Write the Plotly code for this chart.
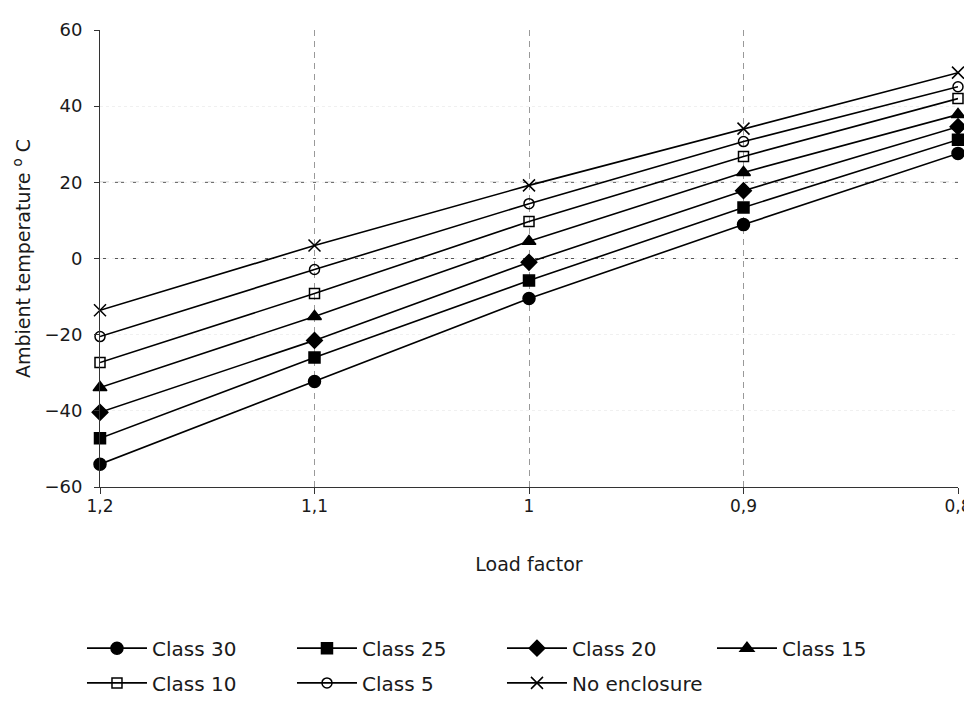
import plotly.graph_objects as go

load_factor = [1.2, 1.1, 1.0, 0.9, 0.8]
x_tick_labels = ["1,2", "1,1", "1", "0,9", "0,8"]
y_ticks = [-60, -40, -20, 0, 20, 40, 60]

class_30 = [-54.0, -32.3, -10.5, 8.9, 27.6]
class_25 = [-47.2, -26.0, -5.8, 13.4, 31.2]
class_20 = [-40.4, -21.5, -1.0, 17.8, 34.6]
class_15 = [-33.9, -15.2, 4.5, 22.6, 37.8]
class_10 = [-27.3, -9.2, 9.7, 26.8, 42.0]
class_5 = [-20.5, -2.9, 14.4, 30.7, 45.1]
no_enclosure = [-13.6, 3.4, 19.2, 34.1, 48.8]

series = [
    ("Class 30", class_30, "circle", 12, "legend"),
    ("Class 25", class_25, "square", 11, "legend"),
    ("Class 20", class_20, "diamond", 12, "legend"),
    ("Class 15", class_15, "triangle-up", 12, "legend"),
    ("Class 10", class_10, "square-open", 10, "legend2"),
    ("Class 5", class_5, "circle-open", 10, "legend2"),
    ("No enclosure", no_enclosure, "x-thin-open", 12, "legend2"),
]

FONT = "DejaVu Sans, Liberation Sans, sans-serif"
TXT = "#1a1a1a"
fig = go.Figure()
for name, vals, sym, size, leg in series:
    fig.add_trace(go.Scatter(
        x=load_factor, y=vals, name=name, mode="lines+markers",
        line=dict(color="black", width=1.6),
        marker=dict(symbol=sym, size=size, color="black",
                    line=dict(color="black", width=1.5)),
        cliponaxis=False, legend=leg,
    ))

# emphasised dashed reference lines at 0 and 20
for yv in [0, 20]:
    fig.add_shape(type="line", xref="paper", x0=0, x1=1, yref="y", y0=yv, y1=yv,
                  line=dict(color="#555", width=1, dash="9px,6px"), layer="below")

leg_common = dict(orientation="h", xanchor="left", yanchor="top",
                  entrywidth=135, entrywidthmode="pixels",
                  font=dict(size=20, family=FONT, color=TXT),
                  bgcolor="rgba(0,0,0,0)", itemwidth=60)

fig.update_layout(
    width=964, height=689,
    margin=dict(l=92, r=14, t=22, b=210, autoexpand=False),
    paper_bgcolor="white", plot_bgcolor="white",
    font=dict(family=FONT, size=18, color=TXT),
    showlegend=True,
    legend=dict(x=-0.021, y=-0.310, **leg_common),
    legend2=dict(x=-0.021, y=-0.386, **leg_common),
    xaxis=dict(
        range=[1.2, 0.8], tickvals=load_factor, ticktext=x_tick_labels,
        showline=True, linecolor="#333", linewidth=1,
        ticks="outside", ticklen=6, tickcolor="#333", ticklabelstandoff=-2,
        ticklabeloverflow="allow",
        showgrid=True, gridcolor="#999", griddash="6px,5px", gridwidth=1,
        zeroline=False, automargin=False,
        title=dict(text="Load factor", standoff=42, font=dict(size=19)),
        tickfont=dict(size=17),
    ),
    yaxis=dict(
        range=[-60, 60], tickvals=y_ticks,
        showline=True, linecolor="#333", linewidth=1,
        ticks="outside", ticklen=5, tickcolor="#333", ticklabelstandoff=8,
        showgrid=True, gridcolor="#f0f0f0", griddash="dot", gridwidth=1,
        zeroline=False, automargin=False,
        title=dict(text="Ambient temperature <sup>o</sup> C", standoff=8, font=dict(size=19)),
        tickfont=dict(size=18),
    ),
)

fig.write_html("out.html")
